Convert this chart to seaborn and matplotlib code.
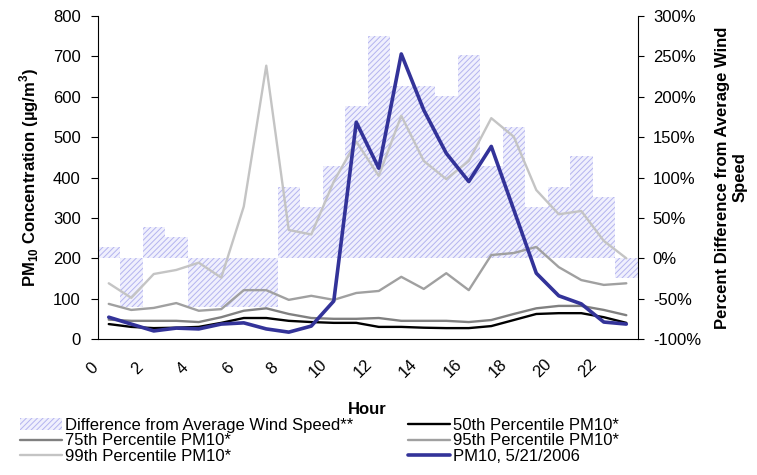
import numpy as np
import matplotlib
matplotlib.use('Agg')
import matplotlib.pyplot as plt
import matplotlib.transforms as mtransforms
from matplotlib.ticker import FuncFormatter
import seaborn as sns

# hourly values
hours = list(range(24))
wind_diff = [14, -60, 39, 26, -60, -60, -60, -60, 88, 63, 114, 189,
             275, 213, 213, 201, 252, 114, 162, 63, 88, 127, 76, -25]
p50 = [37, 30, 27, 28, 30, 40, 52, 52, 45, 42, 40, 40,
       30, 30, 28, 27, 27, 32, 47, 62, 64, 64, 54, 40]
p75 = [48, 45, 45, 45, 42, 54, 70, 76, 62, 52, 50, 50,
       52, 45, 45, 45, 42, 47, 62, 76, 82, 82, 72, 59]
p95 = [87, 72, 77, 89, 70, 74, 121, 121, 97, 107, 97, 114,
       119, 154, 124, 163, 121, 208, 213, 228, 178, 146, 134, 138]
p99 = [138, 102, 161, 171, 189, 152, 328, 677, 270, 259, 390, 489,
       404, 553, 441, 396, 441, 547, 501, 369, 309, 317, 243, 200]
pm_0521 = [54, 37, 20, 27, 25, 37, 40, 25, 17, 32, 94, 537,
           423, 706, 567, 460, 390, 477, 320, 163, 107, 87, 42, 37]

sns.set_style('white')
plt.rcParams['font.family'] = ['Liberation Sans', 'DejaVu Sans']
plt.rcParams['mathtext.fontset'] = 'custom'
plt.rcParams['mathtext.rm'] = 'Liberation Sans'
plt.rcParams['mathtext.bf'] = 'Liberation Sans:bold'
plt.rcParams['hatch.linewidth'] = 0.7
for key in ['text.color', 'axes.labelcolor', 'xtick.color', 'ytick.color']:
    plt.rcParams[key] = 'black'

fig = plt.figure(figsize=(7.57, 4.75), dpi=100)
ax1 = fig.add_axes([0.1288, 0.2863, 0.7134, 0.680])
ax2 = ax1.twinx()

# wind speed difference bars on the right axis
sns.barplot(x=hours, y=wind_diff, ax=ax2, width=1.0, color='#f0f0fd',
            saturation=1, errorbar=None, hatch='//////', edgecolor='#b4b4ef',
            linewidth=0, label='Difference from Average Wind Speed**')

# PM10 lines on the left axis
sns.lineplot(x=hours, y=p50, ax=ax1, color='black', lw=1.7, label='50th Percentile PM10*')
sns.lineplot(x=hours, y=p75, ax=ax1, color='#808080', lw=1.7, label='75th Percentile PM10*')
sns.lineplot(x=hours, y=p95, ax=ax1, color='#a0a0a0', lw=1.7, label='95th Percentile PM10*')
sns.lineplot(x=hours, y=p99, ax=ax1, color='#c4c4c4', lw=1.7, label='99th Percentile PM10*')
sns.lineplot(x=hours, y=pm_0521, ax=ax1, color='#333399', lw=2.6, label='PM10, 5/21/2006')

ax1.set_zorder(ax2.get_zorder() + 1)
ax1.patch.set_visible(False)

ax1.set_xlim(-0.5, 23.5)
ax1.set_ylim(0, 800)
ax2.set_ylim(-100, 300)
ax1.set_yticks(range(0, 801, 100))
ax2.set_yticks(range(-100, 301, 50))
ax2.yaxis.set_major_formatter(FuncFormatter(lambda v, p: '{:.0f}%'.format(v)))

# tick marks between categories, labels every other hour
ax1.set_xticks([h - 0.5 for h in hours] + [hours[-1] + 0.5], [''] * 25)
ax1.set_xticks(hours[::2], [str(h) for h in hours[::2]], minor=True)
ax1.tick_params(axis='x', which='major', direction='inout', length=7, width=0.8, color='black')
ax1.tick_params(axis='x', which='minor', length=0, pad=21, labelsize=12)
shift = mtransforms.ScaledTranslation(-16 / 100, 0, fig.dpi_scale_trans)
for lbl in ax1.get_xticklabels(minor=True):
    lbl.set_rotation(45)
    lbl.set_ha('center')
    lbl.set_va('center')
    lbl.set_transform(lbl.get_transform() + shift)

ax1.tick_params(axis='y', direction='out', length=5, width=0.8, pad=7, labelsize=12, color='black', left=True)
ax2.tick_params(axis='y', direction='out', length=4, width=0.8, pad=7, labelsize=12, color='black', right=True)

for s in ['top', 'right']:
    ax1.spines[s].set_visible(False)
for s in ['top', 'left', 'bottom']:
    ax2.spines[s].set_visible(False)
for ax, s in [(ax1, 'left'), (ax1, 'bottom'), (ax2, 'right')]:
    ax.spines[s].set_color('black')
    ax.spines[s].set_linewidth(0.8)

ax1.set_xlabel('Hour', fontsize=12, fontweight='bold', va='top')
ax1.xaxis.set_label_coords(0.5, -0.195)
ax1.set_ylabel('PM$_{\\mathbf{10}}$ Concentration (µg/m$^{\\mathbf{3}}$)',
               fontsize=12, fontweight='bold')
ax1.yaxis.set_label_coords(-0.105, 0.5)
ax2.set_ylabel('Percent Difference from Average Wind\nSpeed', fontsize=12,
               fontweight='bold', multialignment='center')
ax2.yaxis.set_label_coords(1.1435, 0.5)

# combined legend under the chart
h1, l1 = ax1.get_legend_handles_labels()
h2, l2 = ax2.get_legend_handles_labels()
handles = dict(zip(l1 + l2, h1 + h2))
for ax in (ax1, ax2):
    if ax.get_legend() is not None:
        ax.get_legend().remove()
order = ['Difference from Average Wind Speed**', '75th Percentile PM10*', '99th Percentile PM10*',
         '50th Percentile PM10*', '95th Percentile PM10*', 'PM10, 5/21/2006']
fig.legend([handles[k] for k in order], order, loc='upper left',
           bbox_to_anchor=(20 / 757, 1 - 418 / 475), ncol=2, frameon=False,
           fontsize=12, handlelength=2.5, handletextpad=0.18, columnspacing=3.3,
           labelspacing=0.02, borderpad=0, borderaxespad=0)

fig.savefig('out.png', dpi=100, facecolor='white')
